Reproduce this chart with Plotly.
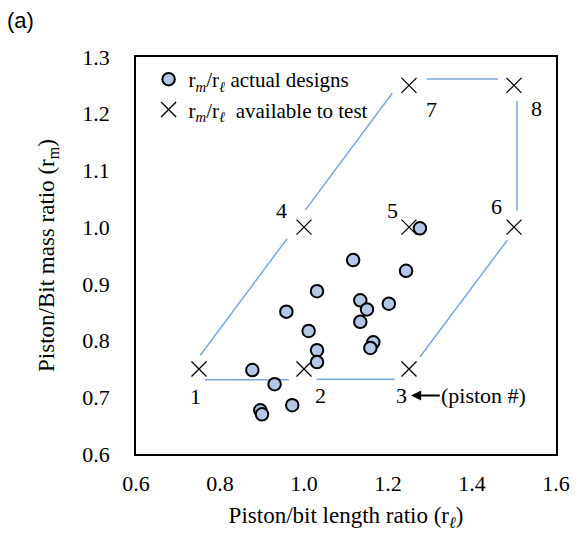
import plotly.graph_objects as go

# Actual designs (r_l, r_m)
design_rl = [1.276, 1.117, 1.243, 1.031, 0.958, 1.134, 1.150, 1.202, 1.134, 1.011,
             1.165, 1.158, 1.031, 1.031, 0.877, 0.930, 0.972, 0.896, 0.900]
design_rm = [0.998, 0.942, 0.923, 0.887, 0.851, 0.871, 0.855, 0.865, 0.833, 0.817,
             0.797, 0.787, 0.783, 0.762, 0.748, 0.723, 0.686, 0.677, 0.670]

# Pistons available to test
piston_ids = ["1", "2", "3", "4", "5", "6", "7", "8"]
piston_rl = [0.75, 1.00, 1.25, 1.00, 1.25, 1.50, 1.25, 1.50]
piston_rm = [0.75, 0.75, 0.75, 1.00, 1.00, 1.00, 1.25, 1.25]
label_rl = [0.741, 1.040, 1.233, 0.947, 1.210, 1.458, 1.303, 1.553]
label_rm = [0.701, 0.703, 0.703, 1.030, 1.030, 1.036, 1.207, 1.209]

# Boundary segments (start/end) drawn between the test pistons
seg_x0 = [0.764, 1.030, 0.753, 1.003, 1.292, 1.507, 1.484]
seg_y0 = [0.731, 0.732, 0.774, 1.030, 1.261, 1.223, 0.977]
seg_x1 = [0.964, 1.216, 0.960, 1.210, 1.462, 1.507, 1.276]
seg_y1 = [0.731, 0.732, 0.980, 1.236, 1.261, 1.029, 0.771]

x_ticks = [0.6, 0.8, 1.0, 1.2, 1.4, 1.6]
y_ticks = [0.6, 0.7, 0.8, 0.9, 1.0, 1.1, 1.2, 1.3]

SERIF = "Liberation Serif"
LINE_COLOR = "#7aa7de"

fig = go.Figure()

for x0, y0, x1, y1 in zip(seg_x0, seg_y0, seg_x1, seg_y1):
    fig.add_trace(go.Scatter(x=[x0, x1], y=[y0, y1], mode="lines",
                             line=dict(color=LINE_COLOR, width=1.5),
                             showlegend=False, hoverinfo="skip"))

fig.add_trace(go.Scatter(
    x=design_rl, y=design_rm, mode="markers",
    name="r<sub><i>m</i></sub>/r<sub><i>ℓ</i></sub> actual designs",
    marker=dict(symbol="circle", size=12.5, color="#b4c7e7",
                line=dict(color="black", width=2))))

fig.add_trace(go.Scatter(
    x=piston_rl, y=piston_rm, mode="markers",
    name="r<sub><i>m</i></sub>/r<sub><i>ℓ</i></sub>  available to test",
    marker=dict(symbol="x-thin", size=15, color="black",
                line=dict(color="black", width=1.3))))

for t, lx, ly in zip(piston_ids, label_rl, label_rm):
    fig.add_annotation(x=lx, y=ly, text=t, showarrow=False,
                       font=dict(family=SERIF, size=22, color="black"))

fig.add_annotation(x=1.255, y=0.703, ax=1.428, ay=0.703, axref="x", ayref="y",
                   text="(piston #)", showarrow=True, arrowhead=2, arrowsize=1,
                   arrowwidth=2, arrowcolor="black",
                   font=dict(family=SERIF, size=22, color="black"))

fig.add_annotation(x=-0.274, y=1.093, xref="paper", yref="paper", text="(a)",
                   showarrow=False, xanchor="center", yanchor="middle",
                   font=dict(family="Liberation Sans", size=22, color="black"))

fig.update_xaxes(range=[0.6, 1.6], tickvals=x_ticks,
                 ticktext=[f"{v:.1f}" for v in x_ticks],
                 showgrid=False, zeroline=False, showline=True, linecolor="black",
                 linewidth=1.5, mirror=True, ticks="", ticklabelstandoff=9,
                 tickfont=dict(family=SERIF, size=22, color="black"),
                 title=dict(text="Piston/bit length ratio (r<sub><i>ℓ</i></sub>)",
                            font=dict(family=SERIF, size=23, color="black"),
                            standoff=12))
fig.update_yaxes(range=[0.6, 1.3], tickvals=y_ticks,
                 ticktext=[f"{v:.1f}" for v in y_ticks],
                 showgrid=False, zeroline=False, showline=True, linecolor="black",
                 linewidth=1.5, mirror=True, ticks="", ticklabelstandoff=20,
                 tickfont=dict(family=SERIF, size=22, color="black"),
                 title=dict(text="Piston/Bit mass ratio (r<sub>m</sub>)",
                            font=dict(family=SERIF, size=23, color="black"),
                            standoff=21))

fig.update_layout(
    width=582, height=538,
    margin=dict(l=136, r=16, t=57, b=84),
    paper_bgcolor="white", plot_bgcolor="white",
    legend=dict(x=0.03, y=0.995, xanchor="left", yanchor="top",
                bgcolor="rgba(0,0,0,0)", itemwidth=30, tracegroupgap=0,
                font=dict(family=SERIF, size=21, color="black")),
)

fig.write_html("out.html")
